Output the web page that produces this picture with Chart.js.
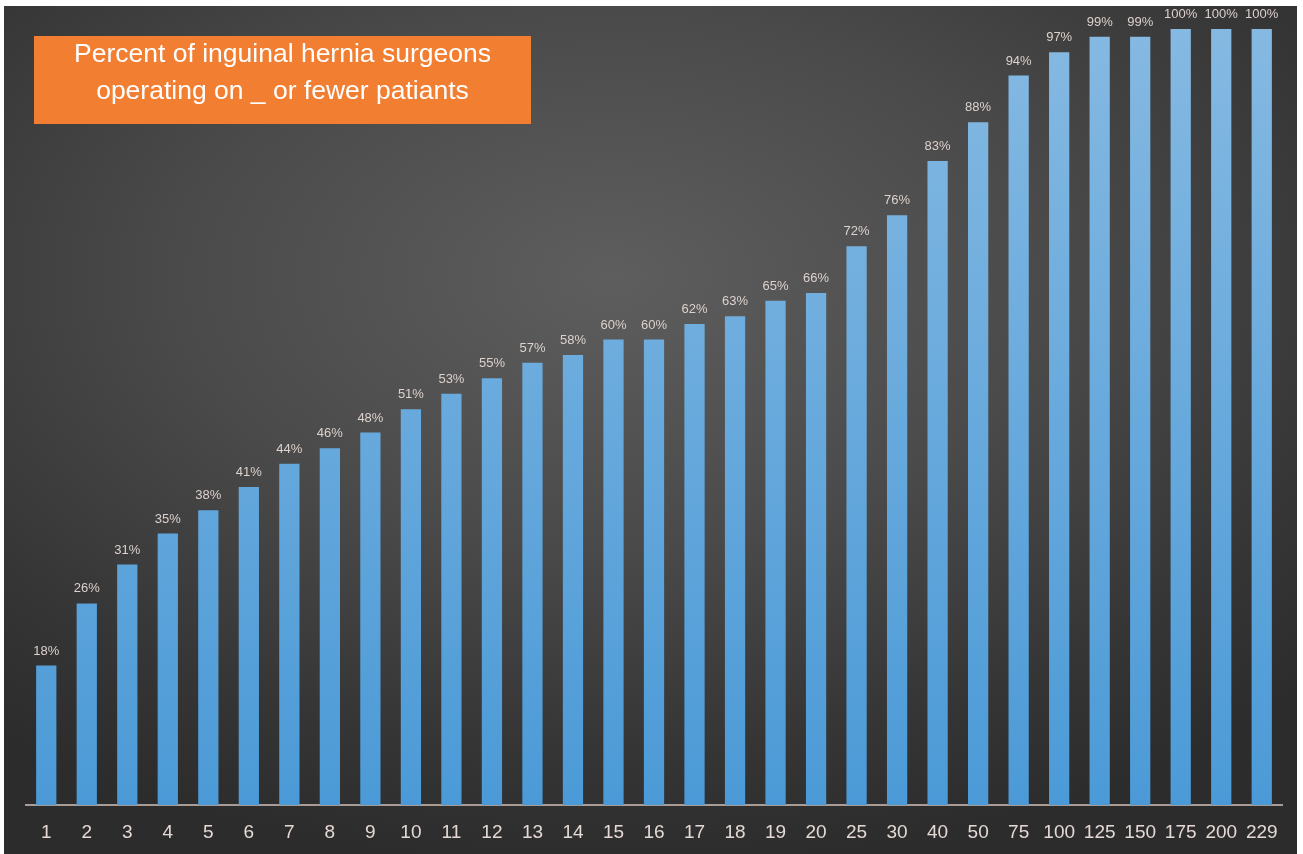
<!DOCTYPE html>
<html>
<head>
<meta charset="utf-8">
<script src="https://cdn.jsdelivr.net/npm/chart.js@4/dist/chart.umd.min.js"></script>
<style>
  html, body { margin: 0; padding: 0; background: #ffffff; }
  body { width: 1303px; height: 854px; position: relative; overflow: hidden; font-family: "Liberation Sans", Arial, sans-serif; }
  #panel {
    position: absolute; left: 4px; top: 6px; width: 1293px; height: 848px; overflow: hidden;
    background: radial-gradient(ellipse 75% 70% at 47% 32%, #5e5e5e 0%, #4a4a4a 45%, #353535 80%, #2c2c2c 100%);
  }
  #title {
    position: absolute; left: 34px; top: 36px; width: 497px; height: 88px;
    background: #f27e32; color: #ffffff; font-size: 26.5px; line-height: 37px;
    text-align: center; box-sizing: border-box;
  }
  #title div { position: relative; top: -1px; }
  canvas { position: absolute; left: 0; top: 0; }
</style>
</head>
<body>
<div id="panel">
  <canvas id="chart" width="1293" height="846"></canvas>
</div>
<div id="title"><div>Percent of inguinal hernia surgeons<br>operating on _ or fewer patiants</div></div>
<script>
const categories = ["1","2","3","4","5","6","7","8","9","10","11","12","13","14","15","16","17","18","19","20","25","30","40","50","75","100","125","150","175","200","229"];
const percents = [18,26,31,35,38,41,44,46,48,51,53,55,57,58,60,60,62,63,65,66,72,76,83,88,94,97,99,99,100,100,100];

const barLabels = {
  id: "barLabels",
  afterDatasetsDraw(chart) {
    const ctx = chart.ctx;
    const meta = chart.getDatasetMeta(0);
    ctx.save();
    ctx.fillStyle = "#ddd2cd";
    ctx.font = "13px 'Liberation Sans', Arial, sans-serif";
    ctx.textAlign = "center";
    ctx.textBaseline = "bottom";
    meta.data.forEach((bar, i) => {
      ctx.fillText(percents[i] + "%", bar.x, bar.y - 8);
    });
    ctx.restore();
  }
};

function barGradient(context) {
  const area = context.chart.chartArea;
  if (!area) return "#5ea6dc";
  const g = context.chart.ctx.createLinearGradient(0, area.top, 0, area.bottom);
  g.addColorStop(0, "#85b9e2");
  g.addColorStop(1, "#4b9ad7");
  return g;
}

new Chart(document.getElementById("chart"), {
  type: "bar",
  data: {
    labels: categories,
    datasets: [{
      data: percents,
      backgroundColor: barGradient,
      borderWidth: 0,
      barPercentage: 0.5,
      categoryPercentage: 1.0
    }]
  },
  options: {
    responsive: false,
    animation: false,
    layout: { padding: { left: 22, right: 15, top: 23, bottom: 0 } },
    plugins: { legend: { display: false }, tooltip: { enabled: false } },
    scales: {
      x: {
        grid: { display: false },
        border: { display: true, color: "#a89c97", width: 2 },
        ticks: {
          color: "#e4d9d4",
          font: { size: 19, family: "'Liberation Sans', Arial, sans-serif" },
          padding: 8,
          maxRotation: 0,
          autoSkip: false
        }
      },
      y: { display: false, min: 0, max: 100 }
    }
  },
  plugins: [barLabels]
});
</script>
</body>
</html>
